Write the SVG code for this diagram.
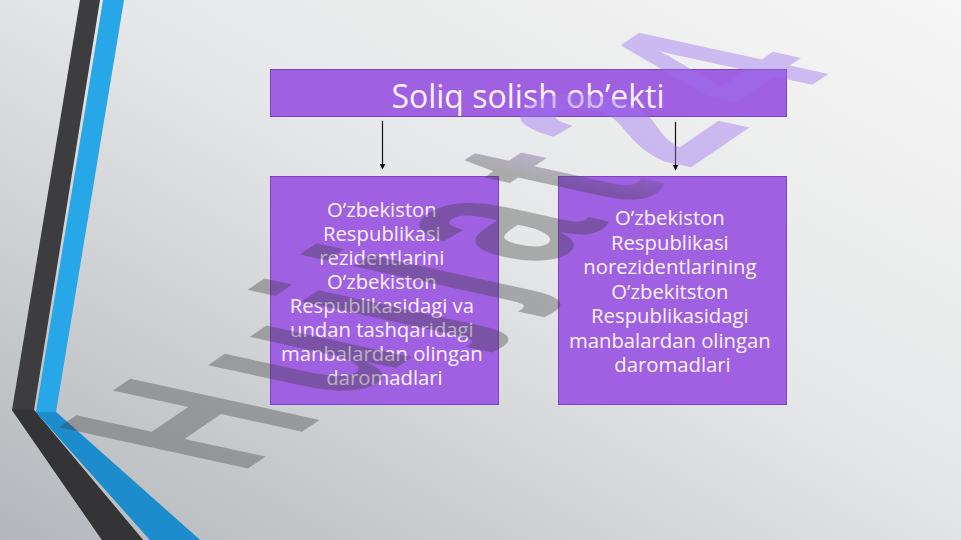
<svg xmlns="http://www.w3.org/2000/svg" width="961" height="540" viewBox="0 0 961 540">
  <defs>
    <linearGradient id="bg" x1="1" y1="0" x2="0" y2="1">
      <stop offset="0" stop-color="#f6f6f6"/>
      <stop offset="0.45" stop-color="#e6e7e8"/>
      <stop offset="1" stop-color="#b3b7bb"/>
    </linearGradient>
    <linearGradient id="wm" gradientUnits="userSpaceOnUse" x1="0" y1="0" x2="500" y2="0">
      <stop offset="0" stop-color="#3c3c3c" stop-opacity="0.36"/>
      <stop offset="0.66" stop-color="#3c3c3c" stop-opacity="0.36"/>
      <stop offset="0.74" stop-color="#9a70f0" stop-opacity="0.42"/>
      <stop offset="1" stop-color="#9a70f0" stop-opacity="0.42"/>
    </linearGradient>
    <marker id="arr" viewBox="0 0 10 10" refX="9" refY="5" markerWidth="6" markerHeight="6" orient="auto" markerUnits="userSpaceOnUse">
      <path d="M0,0 L10,5 L0,10 z" fill="#111"/>
    </marker>
    <style>
      .box { fill: #9f60e2; stroke: #7a44c2; stroke-width: 1; }
      .t { font-family: "Open Sans", "Noto Sans", "DejaVu Sans", sans-serif; fill: #fbf2ff; text-anchor: middle; }
      .body { font-size: 20.3px; }
      .title { font-size: 32px; }
      .conn { stroke: #111; stroke-width: 1.2; fill: none; marker-end: url(#arr); }
      .wm { font-family: "Liberation Sans", Arial, sans-serif; font-weight: bold; font-size: 100px; letter-spacing: 15px; }
    </style>
  </defs>

  <rect x="0" y="0" width="961" height="540" fill="url(#bg)"/>

  <g id="decor">
    <polygon points="80,0 100,0 34,410 143,540 102,540 12,410" fill="#3d3d3f"/>
    <polygon points="103,0 124,0 56,412 200,540 150,540 36,412" fill="#27a6e8"/>
    <polygon points="36,412 56,412 200,540 150,540" fill="#1d8ccc"/>
    <polygon points="12,410 34,410 143,540 102,540" fill="#343436"/>
  </g>

  <g id="connectors">
    <line class="conn" x1="382.5" y1="121" x2="382.5" y2="169"/>
    <line class="conn" x1="675.5" y1="122" x2="675.5" y2="170"/>
  </g>

  <g id="title">
    <rect class="box" x="270.5" y="69.5" width="516" height="47"/>
    <text class="t title" x="528" y="108">Soliq solish ob’ekti</text>
  </g>

  <g id="left">
    <rect class="box" x="270.5" y="176.5" width="228" height="228"/>
    <text class="t body">
      <tspan x="384.5" y="217">O’zbekiston</tspan>
      <tspan x="384.5" y="241">Respublikasi</tspan>
      <tspan x="384.5" y="265">rezidentlarini</tspan>
      <tspan x="384.5" y="289">O’zbekiston</tspan>
      <tspan x="384.5" y="313">Respublikasidagi va</tspan>
      <tspan x="384.5" y="337">undan tashqaridagi</tspan>
      <tspan x="384.5" y="361">manbalardan olingan</tspan>
      <tspan x="384.5" y="385">daromadlari</tspan>
    </text>
  </g>

  <g id="right">
    <rect class="box" x="558.5" y="176.5" width="228" height="228"/>
    <text class="t body">
      <tspan x="672.5" y="225">O’zbekiston</tspan>
      <tspan x="672.5" y="249.5">Respublikasi</tspan>
      <tspan x="672.5" y="274">norezidentlarining</tspan>
      <tspan x="672.5" y="298.5">O’zbekitston</tspan>
      <tspan x="672.5" y="323">Respublikasidagi</tspan>
      <tspan x="672.5" y="347.5">manbalardan olingan</tspan>
      <tspan x="672.5" y="372">daromadlari</tspan>
    </text>
  </g>

  <g id="watermark" transform="matrix(1.215,-0.826,2.75,0.6,240,474)">
    <text class="wm" x="0" y="0" fill="url(#wm)">Hujjat24</text>
  </g>
</svg>
